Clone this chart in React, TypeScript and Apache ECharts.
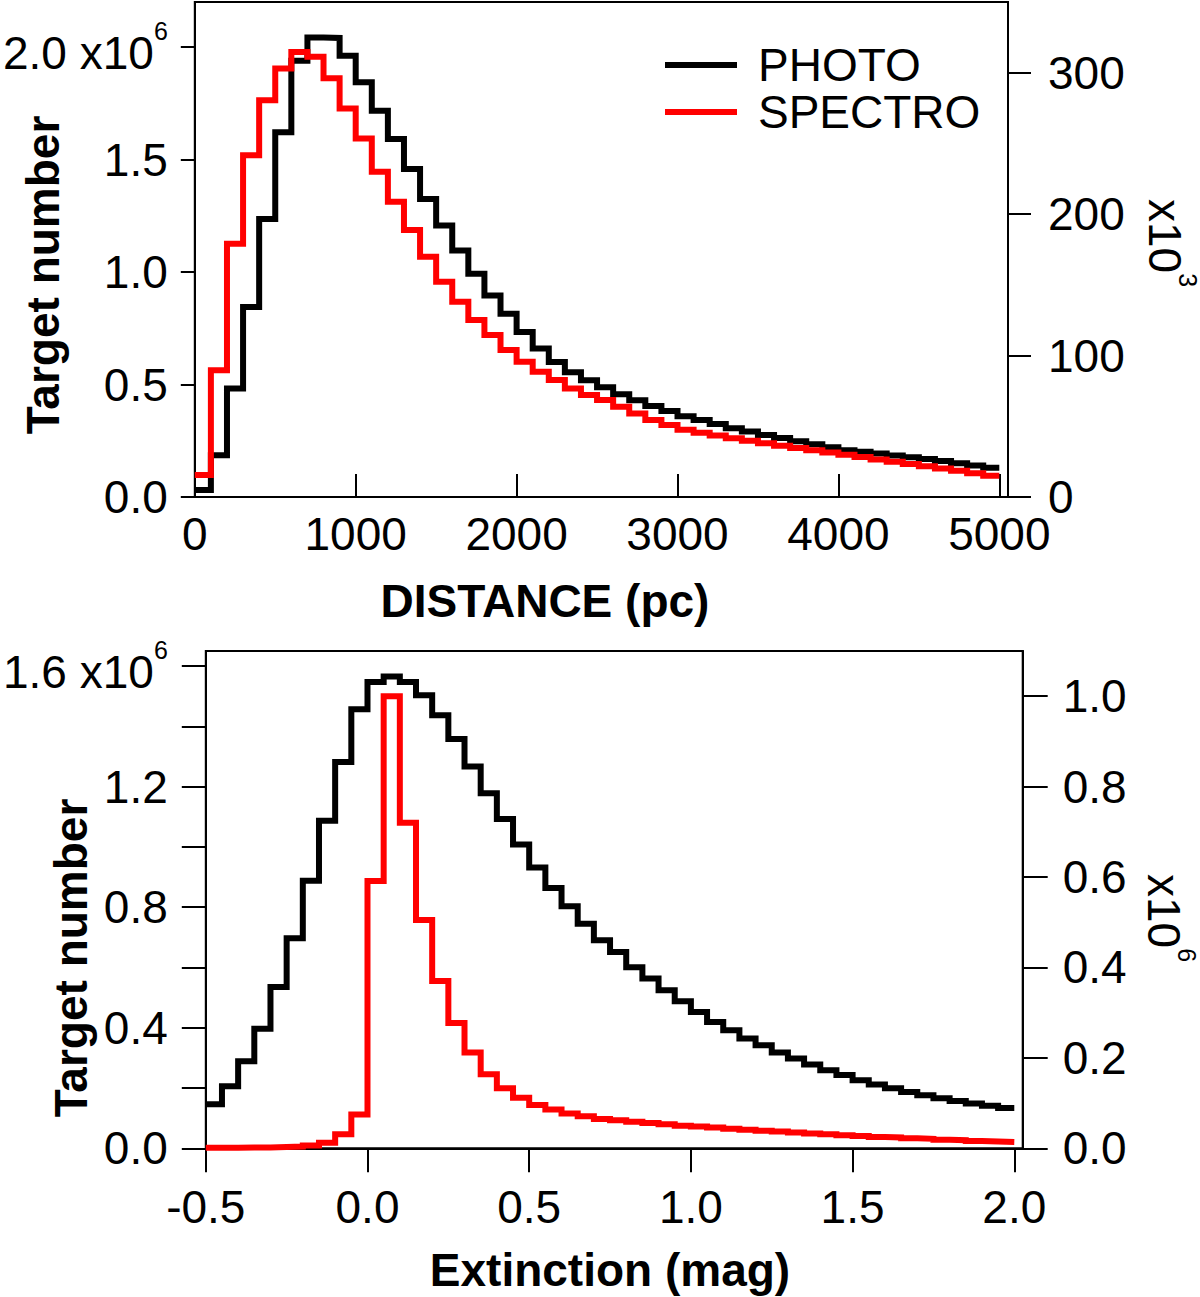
import React, { useEffect, useRef } from 'react';
import * as echarts from 'echarts';

const FONT = '"Liberation Sans", Arial, Helvetica, sans-serif';

// ---------- Top panel: distance histogram (bins of 100 pc) ----------
const distanceBinStart = 0;
const distanceBinWidth = 100;
// PHOTO counts, units of 10^6 (left axis)
const photoDistance = [
  0.031, 0.186, 0.482, 0.844, 1.236, 1.621, 1.939, 2.042, 2.040, 1.961,
  1.843, 1.717, 1.591, 1.458, 1.325, 1.207, 1.096, 0.992, 0.896, 0.815,
  0.733, 0.660, 0.600, 0.555, 0.519, 0.488, 0.457, 0.430, 0.404, 0.382,
  0.359, 0.342, 0.324, 0.306, 0.291, 0.276, 0.262, 0.248, 0.234, 0.221,
  0.208, 0.201, 0.193, 0.185, 0.177, 0.169, 0.160, 0.150, 0.140, 0.130,
];
// SPECTRO counts, units of 10^3 (right axis)
const spectroDistance = [
  15.5, 89.7, 179, 241.7, 280.6, 303, 314.7, 311.2, 296, 274.7,
  253.5, 229.9, 208.7, 188.7, 169.8, 152.2, 138, 125.1, 114.5, 103.9,
  95.6, 88.6, 82.7, 76.8, 72.1, 68.5, 63.8, 59, 54.4, 50.9,
  47.5, 45.5, 43.5, 41.5, 39.8, 38, 36.3, 34.6, 33, 31.4,
  29.8, 28.2, 26.6, 25, 23.4, 21.8, 20.2, 18.6, 16.8, 15.0,
];

// ---------- Bottom panel: extinction histogram (bins of 0.05 mag) ----------
const extinctionBinStart = -0.5;
const extinctionBinWidth = 0.05;
// PHOTO counts, units of 10^6 (left axis)
const photoExtinction = [
  0.146, 0.206, 0.289, 0.397, 0.535, 0.697, 0.888, 1.087, 1.282, 1.457,
  1.547, 1.565, 1.547, 1.503, 1.437, 1.358, 1.267, 1.178, 1.093, 1.008,
  0.932, 0.864, 0.803, 0.745, 0.690, 0.651, 0.601, 0.563, 0.524, 0.488,
  0.452, 0.419, 0.392, 0.364, 0.342, 0.318, 0.298, 0.278, 0.259, 0.243,
  0.226, 0.212, 0.199, 0.187, 0.176, 0.166, 0.157, 0.149, 0.141, 0.134,
];
// SPECTRO counts, units of 10^6 (right axis)
const spectroExtinction = [
  0.001, 0.001, 0.002, 0.002, 0.003, 0.004, 0.006, 0.012, 0.031, 0.075,
  0.591, 1.0, 0.72, 0.505, 0.37, 0.277, 0.212, 0.164, 0.133, 0.112,
  0.096, 0.086, 0.077, 0.071, 0.065, 0.062, 0.059, 0.056, 0.053, 0.050,
  0.048, 0.046, 0.043, 0.041, 0.039, 0.037, 0.035, 0.033, 0.031, 0.029,
  0.027, 0.025, 0.024, 0.022, 0.021, 0.019, 0.018, 0.016, 0.015, 0.014,
];

// ---------- Tick values ----------
const distanceTicks = [0, 1000, 2000, 3000, 4000, 5000];
const distanceLeftTicks = [0, 0.5, 1, 1.5, 2];
const distanceRightTicks = [0, 100, 200, 300];
const extinctionTicks = [-0.5, 0, 0.5, 1, 1.5, 2];
const extinctionLeftTicks = [0, 0.2, 0.4, 0.6, 0.8, 1, 1.2, 1.4, 1.6];
const extinctionLeftLabels = [0, 0.4, 0.8, 1.2, 1.6];
const extinctionRightTicks = [0, 0.2, 0.4, 0.6, 0.8, 1];

const seriesNames = ['PHOTO', 'SPECTRO'];
const seriesColors = ['#000000', '#ff0000'];

function toSteps(start: number, width: number, values: number[]) {
  const pts: number[][] = values.map((v, i) => [start + i * width, v]);
  pts.push([start + values.length * width, values[values.length - 1]]);
  return pts;
}

const TICK_FONT = 46;
const SUP_FONT = 25;

const axisLineStyle = { show: true, onZero: false, lineStyle: { color: '#000', width: 2 } };
const tickStyle = { color: '#000', width: 2 };
const richSup = {
  m: { fontSize: TICK_FONT, fontFamily: FONT, color: '#000', lineHeight: 58, verticalAlign: 'bottom' },
  s: { fontSize: SUP_FONT, fontFamily: FONT, color: '#000', lineHeight: 58, verticalAlign: 'top' },
};

function lineSeries(name: string, color: string, xi: number, yi: number, data: number[][]) {
  return {
    type: 'line',
    name,
    xAxisIndex: xi,
    yAxisIndex: yi,
    data,
    step: 'end',
    showSymbol: false,
    symbol: 'none',
    color,
    itemStyle: { color },
    lineStyle: { color, width: 6, join: 'miter', cap: 'butt' },
    silent: true,
    clip: false,
  };
}

export default function App() {
  const ref = useRef<HTMLDivElement>(null);

  useEffect(() => {
    if (!ref.current) return;
    const chart = echarts.init(ref.current, null, { renderer: 'svg' });

    const option: any = {
      animation: false,
      backgroundColor: '#ffffff',
      textStyle: { fontFamily: FONT, color: '#000' },
      grid: [
        { left: 194, top: 2, width: 814, height: 495, show: true, borderColor: '#000', borderWidth: 2, containLabel: false },
        { left: 205, top: 651, width: 817.7, height: 497.3, show: true, borderColor: '#000', borderWidth: 2, containLabel: false },
      ],
      legend: {
        show: true,
        data: seriesNames,
        orient: 'vertical',
        left: 665,
        top: 42,
        itemWidth: 72,
        itemHeight: 6,
        itemGap: 1,
        padding: 0,
        icon: 'rect',
        selectedMode: false,
        textStyle: { fontSize: 46, lineHeight: 46, fontFamily: FONT, color: '#000', padding: [0, 0, 0, 16] },
      },
      xAxis: [
        {
          type: 'value', gridIndex: 0, min: 0, max: 5054, position: 'bottom',
          axisLine: axisLineStyle,
          axisTick: { show: true, inside: true, length: 23, lineStyle: tickStyle, customValues: distanceTicks },
          axisLabel: {
            show: true, customValues: distanceTicks, margin: 14, fontSize: TICK_FONT, fontFamily: FONT, color: '#000',
            formatter: (v: number) => String(v),
          },
          splitLine: { show: false },
        },
        {
          type: 'value', gridIndex: 1, min: -0.5, max: 2.026, position: 'bottom',
          axisLine: axisLineStyle,
          axisTick: { show: true, inside: false, length: 24, lineStyle: tickStyle, customValues: extinctionTicks },
          axisLabel: {
            show: true, customValues: extinctionTicks, margin: 36, fontSize: TICK_FONT, fontFamily: FONT, color: '#000',
            formatter: (v: number) => v.toFixed(1),
          },
          splitLine: { show: false },
        },
      ],
      yAxis: [
        {
          type: 'value', gridIndex: 0, min: 0, max: 2.2, position: 'left',
          axisLine: axisLineStyle,
          axisTick: { show: true, inside: false, length: 14, lineStyle: tickStyle, customValues: distanceLeftTicks },
          axisLabel: {
            show: true, customValues: distanceLeftTicks, margin: 27, fontSize: TICK_FONT, fontFamily: FONT, color: '#000',
            formatter: (v: number) => (v === 2 ? '{m|2.0 x10}{s|6}' : v.toFixed(1)),
            rich: richSup,
          },
          splitLine: { show: false },
        },
        {
          type: 'value', gridIndex: 0, min: 0, max: 350, position: 'right',
          axisLine: axisLineStyle,
          axisTick: { show: true, inside: false, length: 23, lineStyle: tickStyle, customValues: distanceRightTicks },
          axisLabel: {
            show: true, customValues: distanceRightTicks, margin: 40, fontSize: TICK_FONT, fontFamily: FONT, color: '#000',
            formatter: (v: number) => String(v),
          },
          splitLine: { show: false },
        },
        {
          type: 'value', gridIndex: 1, min: 0, max: 1.65, position: 'left',
          axisLine: axisLineStyle,
          axisTick: { show: true, inside: false, length: 24, lineStyle: tickStyle, customValues: extinctionLeftTicks },
          axisLabel: {
            show: true, customValues: extinctionLeftLabels, margin: 38, fontSize: TICK_FONT, fontFamily: FONT, color: '#000',
            formatter: (v: number) => (Math.abs(v - 1.6) < 1e-9 ? '{m|1.6 x10}{s|6}' : v.toFixed(1)),
            rich: richSup,
          },
          splitLine: { show: false },
        },
        {
          type: 'value', gridIndex: 1, min: 0, max: 1.1, position: 'right',
          axisLine: axisLineStyle,
          axisTick: { show: true, inside: false, length: 25, lineStyle: tickStyle, customValues: extinctionRightTicks },
          axisLabel: {
            show: true, customValues: extinctionRightTicks, margin: 40, fontSize: TICK_FONT, fontFamily: FONT, color: '#000',
            formatter: (v: number) => v.toFixed(1),
          },
          splitLine: { show: false },
        },
      ],
      series: [
        lineSeries(seriesNames[0], seriesColors[0], 0, 0, toSteps(distanceBinStart, distanceBinWidth, photoDistance)),
        lineSeries(seriesNames[1], seriesColors[1], 0, 1, toSteps(distanceBinStart, distanceBinWidth, spectroDistance)),
        lineSeries(seriesNames[0], seriesColors[0], 1, 2, toSteps(extinctionBinStart, extinctionBinWidth, photoExtinction)),
        lineSeries(seriesNames[1], seriesColors[1], 1, 3, toSteps(extinctionBinStart, extinctionBinWidth, spectroExtinction)),
      ],
      graphic: [
        {
          type: 'text', x: 43, y: 275, rotation: Math.PI / 2, silent: true,
          style: { text: 'Target number', fontSize: 46, fontWeight: 'bold', fontFamily: FONT, fill: '#000', align: 'center', verticalAlign: 'middle' },
        },
        {
          type: 'text', x: 71, y: 958, rotation: Math.PI / 2, silent: true,
          style: { text: 'Target number', fontSize: 46, fontWeight: 'bold', fontFamily: FONT, fill: '#000', align: 'center', verticalAlign: 'middle' },
        },
        {
          type: 'text', x: 545, y: 601, silent: true,
          style: { text: 'DISTANCE (pc)', fontSize: 46, fontWeight: 'bold', fontFamily: FONT, fill: '#000', align: 'center', verticalAlign: 'middle' },
        },
        {
          type: 'text', x: 610, y: 1270, silent: true,
          style: { text: 'Extinction (mag)', fontSize: 46, fontWeight: 'bold', fontFamily: FONT, fill: '#000', align: 'center', verticalAlign: 'middle' },
        },
        {
          type: 'text', x: 1171, y: 243, rotation: -Math.PI / 2, silent: true,
          style: { text: '{m|x10}{s|3}', rich: richSup, fontSize: TICK_FONT, fontFamily: FONT, fill: '#000', align: 'center', verticalAlign: 'middle' },
        },
        {
          type: 'text', x: 1170, y: 918, rotation: -Math.PI / 2, silent: true,
          style: { text: '{m|x10}{s|6}', rich: richSup, fontSize: TICK_FONT, fontFamily: FONT, fill: '#000', align: 'center', verticalAlign: 'middle' },
        },
      ],
    };

    chart.setOption(option);
    return () => chart.dispose();
  }, []);

  return (
    <div
      ref={ref}
      style={{ position: 'absolute', left: 0, top: 0, width: 1200, height: 1297, background: '#fff' }}
    />
  );
}
